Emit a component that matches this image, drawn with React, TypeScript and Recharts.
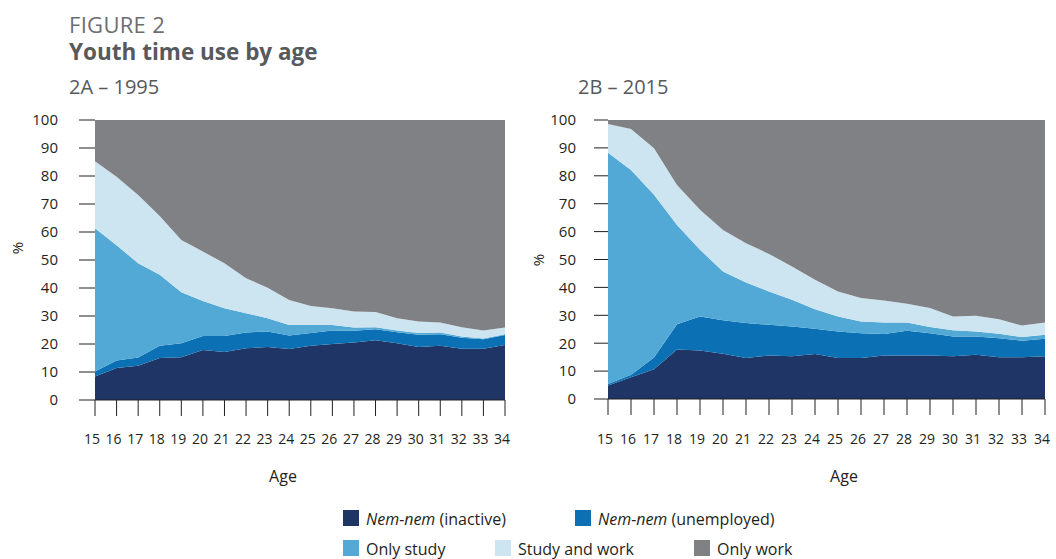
import React from 'react';
import { AreaChart, Area, XAxis, YAxis } from 'recharts';

const ages = [15, 16, 17, 18, 19, 20, 21, 22, 23, 24, 25, 26, 27, 28, 29, 30, 31, 32, 33, 34];
const yTicks = [0, 10, 20, 30, 40, 50, 60, 70, 80, 90, 100];

// 1995 (%)
const inactive1995 = [8.4, 11.4, 12.2, 15.0, 15.3, 17.9, 17.1, 18.5, 18.9, 18.2, 19.4, 20.0, 20.5, 21.3, 20.3, 18.9, 19.4, 18.3, 18.3, 19.6];
const unemployed1995 = [1.8, 2.7, 3.0, 4.4, 5.0, 5.0, 5.8, 5.6, 5.6, 4.8, 4.5, 4.8, 4.2, 4.0, 3.9, 4.4, 4.1, 3.9, 3.4, 3.6];
const onlyStudy1995 = [51.1, 41.2, 33.6, 25.3, 18.2, 12.5, 9.9, 6.9, 4.7, 3.8, 2.9, 2.0, 1.2, 0.7, 0.6, 0.6, 0.6, 0.5, 0.3, 0.3];
const studyWork1995 = [24.0, 24.4, 24.4, 21.0, 18.6, 17.6, 16.0, 12.5, 10.9, 8.9, 6.8, 6.0, 5.7, 5.4, 4.4, 4.1, 3.6, 3.3, 2.8, 2.4];
const onlyWork1995 = [14.7, 20.3, 26.8, 34.3, 42.9, 47.0, 51.2, 56.5, 59.9, 64.3, 66.4, 67.2, 68.4, 68.6, 70.8, 72.0, 72.3, 74.0, 75.2, 74.1];

// 2015 (%)
const inactive2015 = [4.8, 7.8, 10.7, 17.7, 17.4, 16.2, 14.7, 15.6, 15.3, 16.1, 14.7, 14.7, 15.6, 15.6, 15.6, 15.3, 15.9, 15.0, 15.0, 15.3];
const unemployed2015 = [0.6, 0.9, 4.2, 9.1, 12.2, 12.0, 12.5, 11.0, 10.7, 9.1, 9.5, 8.9, 7.7, 8.9, 8.0, 7.1, 6.5, 6.8, 5.9, 6.3];
const onlyStudy2015 = [82.9, 73.4, 58.3, 35.6, 23.9, 17.5, 14.6, 11.9, 9.6, 7.0, 5.4, 4.2, 4.1, 2.9, 2.2, 2.2, 1.8, 1.6, 1.3, 1.4];
const studyWork2015 = [10.3, 14.7, 16.7, 14.3, 14.3, 14.9, 14.0, 13.5, 11.9, 10.5, 8.9, 8.4, 7.9, 6.7, 6.8, 5.0, 5.6, 5.2, 4.1, 4.4];
const onlyWork2015 = [1.4, 3.2, 10.1, 23.3, 32.2, 39.4, 44.2, 48.0, 52.5, 57.3, 61.5, 63.8, 64.7, 65.9, 67.4, 70.4, 70.2, 71.4, 73.7, 72.6];

const series = [
  { key: 'inactive', color: '#1f3565' },
  { key: 'unemployed', color: '#0b70b4' },
  { key: 'onlyStudy', color: '#52a9d6' },
  { key: 'studyWork', color: '#cde4f1' },
  { key: 'onlyWork', color: '#808184' },
];

const data1995 = ages.map((age, i) => ({
  age,
  inactive: inactive1995[i],
  unemployed: unemployed1995[i],
  onlyStudy: onlyStudy1995[i],
  studyWork: studyWork1995[i],
  onlyWork: onlyWork1995[i],
}));

const data2015 = ages.map((age, i) => ({
  age,
  inactive: inactive2015[i],
  unemployed: unemployed2015[i],
  onlyStudy: onlyStudy2015[i],
  studyWork: studyWork2015[i],
  onlyWork: onlyWork2015[i],
}));

const INK = '#231f20';
const TITLE = '#58595b';

function Panel({ data, width, height, yWidth, plotBottom, tickSize, yMargin, xMargin }: any) {
  return (
    <AreaChart
      width={width}
      height={height}
      data={data}
      margin={{ top: 20, right: 13, left: 0, bottom: 0 }}
    >
      <XAxis
        dataKey="age"
        type="number"
        domain={[15, 34]}
        ticks={ages}
        interval={0}
        height={height - 20 - plotBottom}
        tickSize={16}
        tickMargin={xMargin}
        axisLine={{ stroke: INK }}
        tickLine={{ stroke: INK }}
        tick={{ fontSize: 14, fill: INK, dx: -3 }}
      />
      <YAxis
        domain={[0, 100]}
        ticks={yTicks}
        interval={0}
        width={yWidth}
        tickSize={tickSize}
        tickMargin={yMargin}
        axisLine={false}
        tickLine={{ stroke: INK }}
        tick={{ fontSize: 15, fill: INK }}
      />
      {series.map((s) => (
        <Area
          key={s.key}
          type="linear"
          dataKey={s.key}
          stackId="1"
          stroke="none"
          fill={s.color}
          fillOpacity={1}
          isAnimationActive={false}
        />
      ))}
    </AreaChart>
  );
}

const legendRow1 = [
  { color: '#1f3565', italic: 'Nem-nem', rest: ' (inactive)', sq: 343 },
  { color: '#0b70b4', italic: 'Nem-nem', rest: ' (unemployed)', sq: 575 },
];
const legendRow2 = [
  { color: '#52a9d6', italic: '', rest: 'Only study', sq: 343 },
  { color: '#cde4f1', italic: '', rest: 'Study and work', sq: 495 },
  { color: '#808184', italic: '', rest: 'Only work', sq: 694 },
];

function LegendItem({ item, top }: any) {
  return (
    <>
      <div style={{ position: 'absolute', left: item.sq, top, width: 16, height: 16, background: item.color }} />
      <div
        style={{
          position: 'absolute',
          left: item.sq + 23,
          top: top + 1,
          fontSize: 16,
          lineHeight: '16px',
          color: INK,
          whiteSpace: 'nowrap',
        }}
      >
        {item.italic && <i>{item.italic}</i>}
        {item.rest}
      </div>
    </>
  );
}

export default function App() {
  const text = (extra: any) => ({ position: 'absolute' as const, whiteSpace: 'nowrap' as const, ...extra });
  return (
    <div
      style={{
        position: 'absolute',
        left: 0,
        top: 0,
        width: 1056,
        height: 559,
        background: '#fff',
        fontFamily: "'Open Sans', 'Noto Sans', sans-serif",
        overflow: 'hidden',
      }}
    >
      <div style={text({ left: 69, top: 13, fontSize: 22, lineHeight: '22px', color: '#6d6e71', letterSpacing: 0.3 })}>FIGURE 2</div>
      <div style={text({ left: 69, top: 40.5, fontSize: 22.5, lineHeight: '22px', fontWeight: 700, color: TITLE })}>
        Youth time use by age
      </div>
      <div style={text({ left: 69, top: 77, fontSize: 20, lineHeight: '20px', color: TITLE })}>2A – 1995</div>
      <div style={text({ left: 578, top: 77, fontSize: 20, lineHeight: '20px', color: TITLE })}>2B – 2015</div>

      <div style={{ position: 'absolute', left: 0, top: 100 }}>
        <Panel data={data1995} width={518} height={385} yWidth={95} plotBottom={280} tickSize={16} yMargin={21} xMargin={18} />
      </div>
      <div style={{ position: 'absolute', left: 510, top: 100 }}>
        <Panel data={data2015} width={548} height={385} yWidth={98} plotBottom={279} tickSize={14} yMargin={18} xMargin={19} />
      </div>

      <div style={text({ left: 17, top: 248, fontSize: 15, lineHeight: '15px', color: INK, transform: 'translate(-50%, -50%) rotate(-90deg)' })}>%</div>
      <div style={text({ left: 538, top: 260, fontSize: 15, lineHeight: '15px', color: INK, transform: 'translate(-50%, -50%) rotate(-90deg)' })}>%</div>

      <div style={text({ left: 283, top: 468, fontSize: 16, lineHeight: '16px', color: INK, transform: 'translateX(-50%)' })}>Age</div>
      <div style={text({ left: 844, top: 468, fontSize: 16, lineHeight: '16px', color: INK, transform: 'translateX(-50%)' })}>Age</div>

      {legendRow1.map((item) => (
        <LegendItem key={item.rest} item={item} top={510} />
      ))}
      {legendRow2.map((item) => (
        <LegendItem key={item.rest} item={item} top={540} />
      ))}
    </div>
  );
}
